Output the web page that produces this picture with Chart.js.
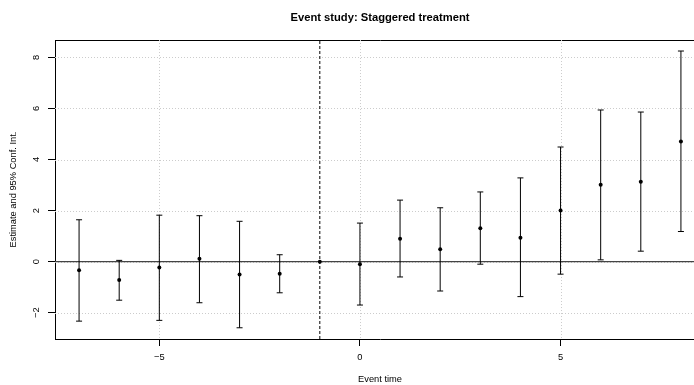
<!DOCTYPE html>
<html>
<head>
<meta charset="utf-8">
<script src="https://cdn.jsdelivr.net/npm/chart.js@4/dist/chart.umd.min.js"></script>
<style>
	html, body { margin: 0; padding: 0; overflow: hidden; background: #fff; }
	#wrap { width: 760px; height: 385px; }
</style>
</head>
<body>
<div id="wrap"><canvas id="chart"></canvas></div>
<script>
// event times and coefficient estimates (reference period -1 fixed at 0)
const eventTimes = [-7, -6, -5, -4, -3, -2, -1, 0, 1, 2, 3, 4, 5, 6, 7, 8];
const estimates = [-0.34, -0.72, -0.23, 0.11, -0.5, -0.47, 0, -0.1, 0.9, 0.49, 1.31, 0.94, 2.0, 3.01, 3.13, 4.71];
const ciLow = [-2.33, -1.51, -2.3, -1.61, -2.59, -1.22, null, -1.7, -0.6, -1.15, -0.1, -1.37, -0.49, 0.07, 0.41, 1.18];
const ciHigh = [1.64, 0.05, 1.82, 1.8, 1.58, 0.27, null, 1.51, 2.41, 2.11, 2.73, 3.28, 4.49, 5.94, 5.86, 8.25];
const xTicks = [-5, 0, 5];
const yTicks = [-2, 0, 2, 4, 6, 8];
const xRange = [-7.6, 8.6];
const yRange = [-3.03, 8.68];
const refPeriod = -1;

const FONT = "'Liberation Sans', Arial, Helvetica, sans-serif";
const fmt = (v) => (v < 0 ? "\u2212" + Math.abs(v) : String(v));

const errorBars = eventTimes
	.map((t, i) => ({ t, lo: ciLow[i], hi: ciHigh[i] }))
	.filter((d) => d.lo !== null)
	.map((d) => ({
		type: "line",
		data: [
			{ x: d.t, y: d.lo },
			{ x: d.t, y: d.hi },
		],
		borderColor: "#000",
		borderWidth: 1,
		pointStyle: "line",
		pointRadius: 3,
		pointBorderColor: "#000",
		pointBorderWidth: 1,
		order: 2,
	}));

const datasets = [
	{
		type: "scatter",
		data: eventTimes.map((t, i) => ({ x: t, y: estimates[i] })),
		pointStyle: "circle",
		pointRadius: 2,
		pointBackgroundColor: "#000",
		pointBorderColor: "#000",
		pointBorderWidth: 0,
		order: 1,
	},
	...errorBars,
	{
		type: "line",
		data: [
			{ x: xRange[0], y: 0 },
			{ x: xRange[1], y: 0 },
		],
		borderColor: "#444",
		borderWidth: 1.2,
		pointRadius: 0,
		order: 3,
	},
	{
		type: "line",
		data: [
			{ x: refPeriod, y: yRange[0] },
			{ x: refPeriod, y: yRange[1] },
		],
		borderColor: "#000",
		borderWidth: 1,
		borderDash: [3, 2],
		pointRadius: 0,
		order: 3,
	},
];

// dotted grid, drawn under the data at the scales' own ticks
const dottedGrid = {
	id: "dottedGrid",
	beforeDatasetsDraw(chart) {
		const { ctx, chartArea: a, scales } = chart;
		ctx.save();
		ctx.strokeStyle = "#cccccc";
		ctx.lineWidth = 1;
		ctx.setLineDash([1, 2]);
		scales.x.ticks.forEach((t) => {
			const px = Math.round(scales.x.getPixelForValue(t.value)) + 0.5;
			ctx.beginPath();
			ctx.moveTo(px, a.top);
			ctx.lineTo(px, a.bottom);
			ctx.stroke();
		});
		scales.y.ticks.forEach((t) => {
			const py = Math.round(scales.y.getPixelForValue(t.value)) + 0.5;
			ctx.beginPath();
			ctx.moveTo(a.left, py);
			ctx.lineTo(a.right, py);
			ctx.stroke();
		});
		ctx.restore();
	},
};

const gridOpts = {
	drawOnChartArea: false,
	tickLength: 7,
	tickColor: "#000",
	tickWidth: 1,
};

window.onload = () => {
	const canvas = document.getElementById("chart");
	new Chart(canvas, {
		type: "scatter",
		data: { datasets },
		plugins: [dottedGrid],
		options: {
			responsive: true,
			maintainAspectRatio: false,
			animation: false,
			layout: { padding: 0 },
			plugins: {
				legend: { display: false },
				tooltip: { enabled: false },
				title: {
					display: true,
					text: "Event study: Staggered treatment",
					color: "#000",
					font: { family: FONT, size: 11.2, weight: "bold" },
					padding: { top: 10.8, bottom: 15.8 },
				},
			},
			scales: {
				x: {
					type: "linear",
					position: "bottom",
					min: xRange[0],
					max: xRange[1],
					afterBuildTicks: (s) => {
						s.ticks = xTicks.map((v) => ({ value: v }));
					},
					afterFit: (s) => {
						s.height = 46;
					},
					grid: gridOpts,
					border: { display: true, color: "#000", width: 1 },
					ticks: {
						color: "#000",
						font: { family: FONT, size: 9.3 },
						padding: 5.4,
						maxRotation: 0,
						callback: (v) => fmt(v),
					},
					title: {
						display: true,
						text: "Event time",
						color: "#000",
						font: { family: FONT, size: 9.3 },
						padding: { top: 0, bottom: 0 },
					},
				},
				x2: {
					type: "linear",
					position: "top",
					afterFit: (s) => {
						s.height = 0;
					},
					grid: { drawOnChartArea: false, drawTicks: false },
					border: { display: true, color: "#000", width: 1 },
					ticks: { display: false },
				},
				y: {
					type: "linear",
					position: "left",
					min: yRange[0],
					max: yRange[1],
					afterBuildTicks: (s) => {
						s.ticks = yTicks.map((v) => ({ value: v }));
					},
					afterFit: (s) => {
						s.width = 55;
					},
					grid: gridOpts,
					border: { display: true, color: "#000", width: 1 },
					ticks: {
						color: "#000",
						font: { family: FONT, size: 9.3 },
						padding: 6.7,
						minRotation: 90,
						maxRotation: 90,
						crossAlign: "center",
						callback: (v) => fmt(v),
					},
					title: {
						display: true,
						text: "Estimate and 95% Conf. Int.",
						color: "#000",
						font: { family: FONT, size: 9.3 },
						padding: { top: 7.4, bottom: 0 },
					},
				},
				y2: {
					type: "linear",
					position: "right",
					afterFit: (s) => {
						s.width = 55;
					},
					grid: { display: false },
					border: { display: false },
					ticks: { display: false },
				},
			},
		},
	});
};
</script>
</body>
</html>
